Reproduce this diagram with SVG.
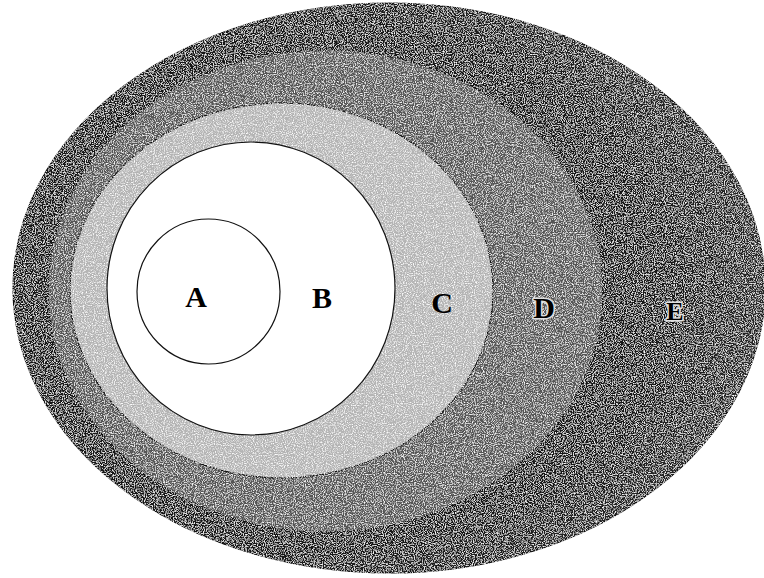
<svg xmlns="http://www.w3.org/2000/svg" width="764" height="578" viewBox="0 0 764 578">
  <defs>
    <filter id="grain" x="0" y="0" width="100%" height="100%" filterUnits="userSpaceOnUse">
      <feTurbulence type="fractalNoise" baseFrequency="0.9" numOctaves="2" seed="7" result="n"/>
      <feColorMatrix in="n" type="matrix" values="0 0 0 0 1  0 0 0 0 1  0 0 0 0 1  0 0 0 -2.6 1.45" result="speck"/>
      <feComposite in="speck" in2="SourceGraphic" operator="in" result="sp"/>
      <feMerge><feMergeNode in="SourceGraphic"/><feMergeNode in="sp"/></feMerge>
    </filter>
    <radialGradient id="gE" cx="0.42" cy="0.5" r="0.62">
      <stop offset="0" stop-color="#101010"/>
      <stop offset="0.7" stop-color="#141414"/>
      <stop offset="1" stop-color="#2c2c2c"/>
    </radialGradient>
  </defs>
  <style>
    .ring { stroke: #111; stroke-width: 1.2; }
    .lbl { font-family: "Liberation Serif", "Times New Roman", serif; font-weight: bold; font-size: 30px; text-anchor: middle; fill: #000; }
    .halo { paint-order: stroke; stroke: #e0e0e0; stroke-width: 3px; stroke-linejoin: round; }
  </style>
  <rect width="764" height="578" fill="#fff"/>
  <g id="E">
    <ellipse cx="389" cy="288" rx="376" ry="285" fill="url(#gE)" class="ring" filter="url(#grain)"/>
    <text class="lbl halo" x="675" y="320" style="font-size:26px">E</text>
  </g>
  <g id="D">
    <ellipse cx="325.5" cy="291" rx="277.5" ry="241" fill="#555" class="ring" filter="url(#grain)"/>
    <text class="lbl halo" x="544" y="318">D</text>
  </g>
  <g id="C">
    <ellipse cx="281.5" cy="290.5" rx="211.5" ry="187.5" fill="#b4b4b4" class="ring" filter="url(#grain)"/>
    <text class="lbl" x="442" y="313">C</text>
  </g>
  <g id="B">
    <ellipse cx="251" cy="288.5" rx="144" ry="146.5" fill="#fff" class="ring"/>
    <text class="lbl" x="322" y="308">B</text>
  </g>
  <g id="A">
    <ellipse cx="208.5" cy="291.5" rx="71.5" ry="72.5" fill="#fff" class="ring"/>
    <text class="lbl" x="196" y="307">A</text>
  </g>
  <g id="connectors"/>
</svg>
